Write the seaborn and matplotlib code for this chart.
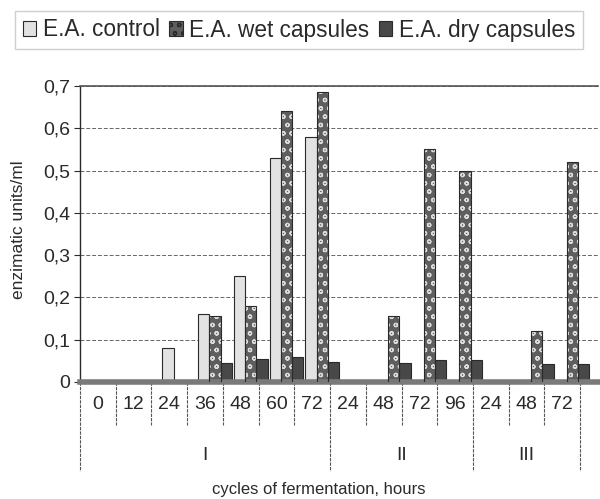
import matplotlib
matplotlib.use("Agg")
import matplotlib.pyplot as plt
import matplotlib.transforms as mtransforms
from matplotlib.patches import Rectangle
import pandas as pd
import seaborn as sns


HOURS = ["0", "12", "24", "36", "48", "60", "72", "24", "48", "72", "96", "24", "48", "72"]
CYCLES = ["I"] * 7 + ["II"] * 4 + ["III"] * 3
CYCLE_NAMES = ["I", "II", "III"]
SERIES = ["E.A. control", "E.A. wet capsules", "E.A. dry capsules"]

CONTROL = [0, 0, 0.08, 0.16, 0.25, 0.53, 0.58, 0, 0, 0, 0, 0, 0, 0]
WET = [0, 0, 0, 0.155, 0.18, 0.64, 0.685, 0, 0.155, 0.55, 0.50, 0, 0.12, 0.52]
DRY = [0, 0, 0, 0.045, 0.055, 0.058, 0.048, 0, 0.045, 0.052, 0.052, 0, 0.042, 0.042]

Y_TICKS = [0, 0.1, 0.2, 0.3, 0.4, 0.5, 0.6, 0.7]
Y_TICK_LABELS = ["0", "0,1", "0,2", "0,3", "0,4", "0,5", "0,6", "0,7"]

FACE = {"E.A. control": "#e2e2e2", "E.A. wet capsules": "#5e5e5e", "E.A. dry capsules": "#484848"}
INK = "#2a2a2a"


def build_frame():
    slots = [f"{c}-{h}" for c, h in zip(CYCLES, HOURS)]
    rows = []
    for name, values in zip(SERIES, [CONTROL, WET, DRY]):
        for slot, v in zip(slots, values):
            rows.append({"slot": slot, "series": name, "value": v})
    return pd.DataFrame(rows), slots


def main() -> None:
    df, slots = build_frame()

    sns.set_theme(style="white")
    plt.rcParams["font.family"] = ["Liberation Sans", "DejaVu Sans"]
    plt.rcParams["hatch.linewidth"] = 0.9

    fig = plt.figure(figsize=(6, 4.99), dpi=100)
    ax = fig.add_axes([80 / 600, 1 - 382 / 499, 518 / 600, 296 / 499])

    sns.barplot(
        data=df, x="slot", y="value", hue="series", order=slots, hue_order=SERIES,
        palette=FACE, width=0.95, ax=ax, legend=False, saturation=1,
    )

    # 3D depth: bars sit a little right of the label row
    shift = ax.transData + mtransforms.ScaledTranslation(10 / 100, 0, fig.dpi_scale_trans)
    for name, container in zip(SERIES, ax.containers):
        for p in container:
            p.set_transform(shift)
            if p.get_height() <= 0:
                p.set_linewidth(0)
                continue
            if name == "E.A. wet capsules":
                p.set_hatch("oo")
                p.set_edgecolor("#dcdcdc")
                p.set_linewidth(0)
                ax.add_patch(Rectangle(p.get_xy(), p.get_width(), p.get_height(),
                                       fill=False, ec=INK, lw=0.8, transform=shift, zorder=3))
            else:
                p.set_edgecolor(INK)
                p.set_linewidth(0.8)

    ax.set_xlim(-0.5, 14.0)
    ax.set_ylim(0, 0.7)
    ax.set_yticks(Y_TICKS, Y_TICK_LABELS)
    ax.set_xticks(range(len(HOURS)), HOURS)
    ax.tick_params(axis="x", length=0, pad=10, labelsize=14, labelcolor=INK)
    ax.tick_params(axis="y", length=4, width=0.8, color=INK, left=True, pad=3,
                   labelsize=14, labelcolor=INK)

    for y in Y_TICKS[1:]:
        ax.axhline(y, color="#666666", lw=0.7, ls=(0, (4, 2)), zorder=0)

    ax.spines["right"].set_visible(False)
    ax.spines["left"].set_color(INK)
    ax.spines["left"].set_linewidth(1.0)
    ax.spines["top"].set_color("#555555")
    ax.spines["top"].set_linewidth(1.2)
    ax.spines["bottom"].set_color("#7a7a7a")
    ax.spines["bottom"].set_linewidth(4)

    # separators of the category table under the axis
    xt = ax.get_xaxis_transform()
    bounds = [0]
    for name in CYCLE_NAMES:
        bounds.append(bounds[-1] + CYCLES.count(name))
    for k in range(len(HOURS) + 1):
        bottom = -0.30 if k in bounds else -0.145
        ax.plot([k - 0.5, k - 0.5], [0, bottom], transform=xt, clip_on=False,
                color="#555555", lw=0.8, ls=(0, (3, 1)))
    for name, a, b in zip(CYCLE_NAMES, bounds[:-1], bounds[1:]):
        ax.text((a + b - 1) / 2, -0.247, name, transform=xt, ha="center", va="center",
                fontsize=14, color=INK)

    ax.set_xlabel("cycles of fermentation, hours", fontsize=12, color=INK)
    ax.xaxis.set_label_coords(0.46, -0.338)
    ax.set_ylabel("enzimatic units/ml", fontsize=12.5, color=INK)
    ax.yaxis.set_label_coords(-0.104, 0.514)

    handles = [Rectangle((0, 0), 1, 1, fc=FACE[s], ec=INK, lw=0.8) for s in SERIES]
    handles[1].set_hatch("oo")
    fig.legend(
        handles, SERIES, loc="center", bbox_to_anchor=(299 / 600, 1 - 30 / 499), ncol=3,
        fontsize=16.3, handlelength=0.6, handleheight=0.6, handletextpad=0.3,
        columnspacing=0.4, frameon=True, fancybox=False, edgecolor="#c4c4c4",
        labelcolor=INK, borderpad=0.35,
    )

    fig.savefig("out.png", dpi=100)
    plt.close(fig)


if __name__ == "__main__":
    main()
